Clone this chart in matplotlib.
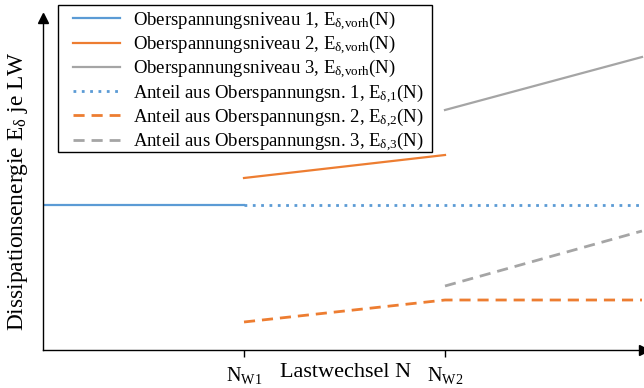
import matplotlib.pyplot as plt
from matplotlib.patches import Rectangle

plt.rcParams['font.family'] = ['Liberation Serif', 'DejaVu Serif']
plt.rcParams['mathtext.fontset'] = 'custom'
plt.rcParams['mathtext.rm'] = 'Liberation Serif'
plt.rcParams['mathtext.it'] = 'Liberation Serif:italic'

# Lastwechsel (N_W1 = 1, N_W2 = 2), Energie in relativen Einheiten
n_end = 2.98
x_level1 = [0, 1]
y_level1 = [145, 145]
x_share1 = [1, n_end]
y_share1 = [145, 145]
x_level2 = [1, 2]
y_level2 = [172, 195]
x_share2 = [1, 2, n_end]
y_share2 = [28, 50, 50]
x_level3 = [2, n_end]
y_level3 = [240, 293]
x_share3 = [2, n_end]
y_share3 = [64, 119]

blue = '#5B9BD5'
orange = '#ED7D31'
gray = '#A5A5A5'

W, H = 644, 388
fig = plt.figure(figsize=(W / 100, H / 100), dpi=100)
ax = fig.add_axes([43 / W, 38 / H, 601 / W, 332 / H])

ax.plot(x_level1, y_level1, color=blue, lw=1.6,
        label=r'Oberspannungsniveau 1, $\mathregular{E_{\delta{,}vorh}}$(N)')
ax.plot(x_level2, y_level2, color=orange, lw=1.6,
        label=r'Oberspannungsniveau 2, $\mathregular{E_{\delta{,}vorh}}$(N)')
ax.plot(x_level3, y_level3, color=gray, lw=1.6,
        label=r'Oberspannungsniveau 3, $\mathregular{E_{\delta{,}vorh}}$(N)')
ax.plot(x_share1, y_share1, color=blue, lw=2.0, ls=(0, (1, 2)),
        label=r'Anteil aus Oberspannungsn. 1, $\mathregular{E_{\delta{,}1}}$(N)')
ax.plot(x_share2, y_share2, color=orange, lw=2.0, ls=(0, (4, 2.5)),
        label=r'Anteil aus Oberspannungsn. 2, $\mathregular{E_{\delta{,}2}}$(N)')
ax.plot(x_share3, y_share3, color=gray, lw=2.0, ls=(0, (4, 2.5)),
        label=r'Anteil aus Oberspannungsn. 3, $\mathregular{E_{\delta{,}3}}$(N)')

ax.set_xlim(0, 2.99)
ax.set_ylim(0, 332)
for side in ['top', 'right']:
    ax.spines[side].set_visible(False)
ax.spines['left'].set_linewidth(1.0)
ax.spines['bottom'].set_linewidth(1.0)

# Pfeilspitzen der Achsen
ax.plot([0], [332], marker='^', color='black', ms=7, clip_on=False)
ax.plot([2.99], [0], marker='>', color='black', ms=7, clip_on=False)

ax.set_yticks([])
ax.set_xticks([1, 2])
ax.set_xticklabels([r'N$_\mathregular{W1}$', r'N$_\mathregular{W2}$'], fontsize=14.5)
ax.tick_params(axis='x', length=5, width=1.0, pad=6)

ax.text(1.505, -13, 'Lastwechsel N', fontsize=16, ha='center', va='top')
ax.set_ylabel(r'Dissipationsenergie $\mathregular{E_\delta}$ je LW', fontsize=16.8)
ax.yaxis.set_label_coords(-13 / 601, 0.48)

# Rahmen der Legende
ax.add_patch(Rectangle((58 / W, 1 - 152 / H), (432 - 58) / W, (152 - 5) / H,
                       transform=fig.transFigure, facecolor='white',
                       edgecolor='black', lw=1.0, zorder=4, clip_on=False))

leg = ax.legend(loc='upper left', bbox_to_anchor=(73 / W, 1 - 9 / H),
                bbox_transform=fig.transFigure,
                fontsize=13.5, frameon=False,
                handlelength=2.5, labelspacing=0.07, borderpad=0,
                handletextpad=0.7, borderaxespad=0)
leg.set_zorder(5)

plt.savefig('out.png', dpi=100)
